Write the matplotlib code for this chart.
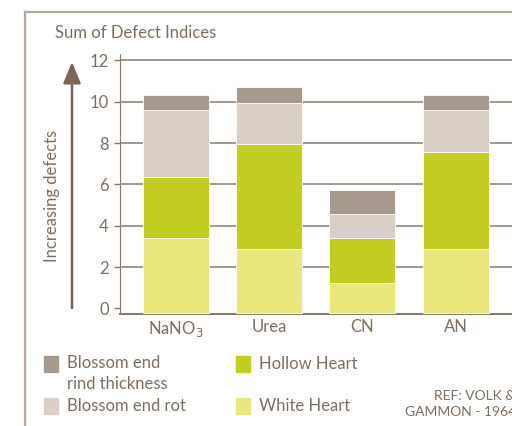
import matplotlib
matplotlib.use('Agg')
import matplotlib.pyplot as plt
from matplotlib.patches import Rectangle
from matplotlib.lines import Line2D

DPI = 100
W, H = 512, 426

categories = ['NaNO$_3$', 'Urea', 'CN', 'AN']
white_heart = [3.4, 2.85, 1.25, 2.85]
hollow_heart = [2.95, 5.1, 2.15, 4.7]
blossom_rot = [3.25, 2.0, 1.15, 2.05]
rind_thickness = [0.75, 0.78, 1.2, 0.75]

series = [white_heart, hollow_heart, blossom_rot, rind_thickness]
colors = ['#e8e87c', '#c2cf22', '#d8cfc6', '#a69a8e']

legend_labels = ['Blossom end\nrind thickness', 'Hollow Heart', 'Blossom end rot', 'White Heart']
legend_colors = ['#a69a8e', '#c2cf22', '#d8cfc6', '#e8e87c']

TXT = '#7d6e62'
GRID = '#9d9085'
BASE = -0.22  # bars start on the bottom spine, slightly below zero
FS = 12

plt.rcParams['font.family'] = ['Lato', 'DejaVu Sans']

fig = plt.figure(dpi=DPI, figsize=(W / DPI, H / DPI))
ax = fig.add_axes([120 / W, (H - 313.5) / H, (W - 120) / W, (313.5 - 54.3) / H])

x = range(len(categories))
bottom = [BASE] * len(categories)
for i, (vals, c) in enumerate(zip(series, colors)):
    heights = [v - BASE if i == 0 else v for v in vals]
    ax.bar(x, heights, width=0.706, bottom=bottom, color=c, edgecolor='white',
           linewidth=0.6, zorder=3)
    bottom = [b + h for b, h in zip(bottom, heights)]

ax.set_xlim(-0.594, 3.6)
ax.set_ylim(-0.25, 12.3)
ax.set_yticks(range(0, 13, 2))
ax.set_xticks(list(x))
ax.set_xticklabels(categories)
for y in range(2, 13, 2):
    ax.axhline(y, color=GRID, lw=1.3, zorder=1)

for s in ['top', 'right']:
    ax.spines[s].set_visible(False)
ax.spines['left'].set_color('#8a7a6d')
ax.spines['bottom'].set_color('#8a7a6d')
ax.spines['bottom'].set_linewidth(1.5)
ax.tick_params(axis='y', length=4, width=1, color='#8a7a6d', pad=4, labelsize=FS, labelcolor=TXT)
ax.tick_params(axis='x', length=0, pad=4, labelsize=FS, labelcolor=TXT)

# frame around the panel
fig.add_artist(Line2D([25 / W, 25 / W], [0, (H - 12) / H], color='#b3a89e', lw=1.6,
                      transform=fig.transFigure))
fig.add_artist(Line2D([25 / W, 1], [(H - 12) / H, (H - 12) / H], color='#b3a89e', lw=1.6,
                      transform=fig.transFigure))

fig.text(55 / W, (H - 33) / H, 'Sum of Defect Indices', color=TXT, fontsize=FS,
         ha='left', va='center')

ax.annotate('', xy=(72, H - 62), xytext=(72, H - 308), xycoords='figure pixels',
            textcoords='figure pixels', annotation_clip=False,
            arrowprops=dict(arrowstyle='-|>,head_length=13,head_width=5.4',
                            mutation_scale=1, lw=1.8, color='#7a6656', shrinkA=0, shrinkB=0))
fig.text(52 / W, (H - 196) / H, 'Increasing defects', color=TXT, fontsize=FS,
         rotation=90, ha='center', va='center')

# legend
pos = [(44, 364), (236, 364), (44, 406), (236, 406)]
for (px, py), lab, c in zip(pos, legend_labels, legend_colors):
    fig.patches.append(Rectangle((px / W, (H - py - 8) / H), 14 / W, 16 / H,
                                 color=c, transform=fig.transFigure, figure=fig))
    fig.text((px + 23) / W, (H - py + 9) / H if '\n' in lab else (H - py) / H, lab,
             color=TXT, fontsize=FS, ha='left', va='top' if '\n' in lab else 'center',
             linespacing=1.35)

fig.text(434 / W, (H - 396) / H, 'REF: VOLK &', color=TXT, fontsize=10, ha='left', va='center')
fig.text(405 / W, (H - 412) / H, 'GAMMON - 1964', color=TXT, fontsize=10, ha='left', va='center')

fig.savefig('out.png', dpi=DPI)
